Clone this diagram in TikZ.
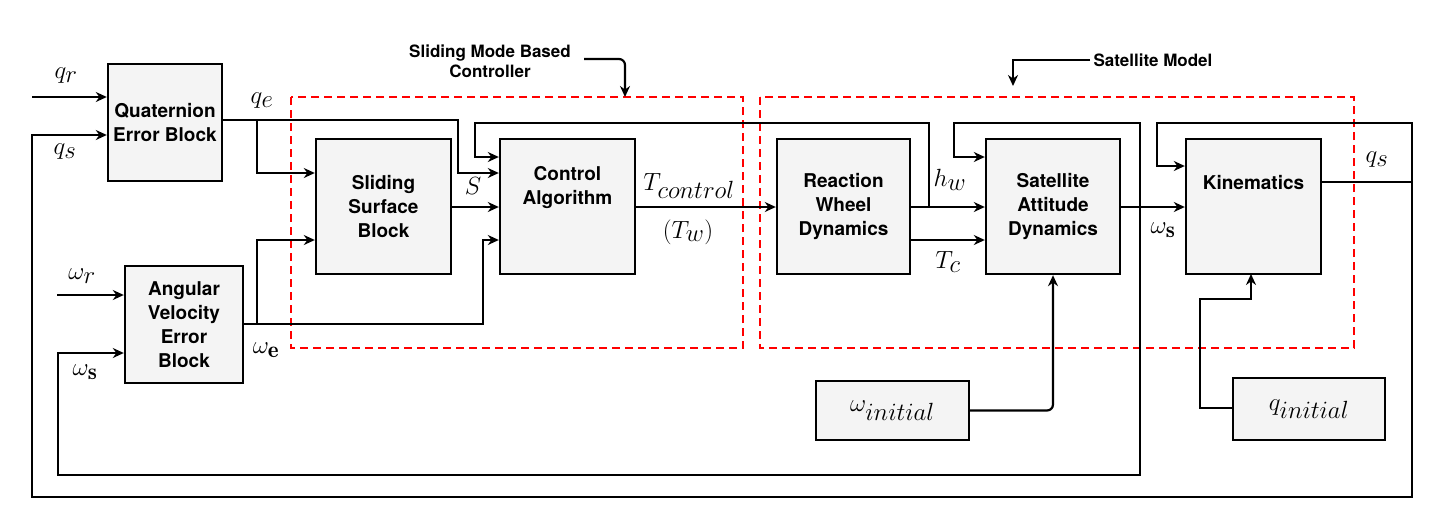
\documentclass[tikz,border=0pt]{standalone}
\usepackage{fontspec}
\setsansfont{TeX Gyre Heros}
\usetikzlibrary{arrows.meta}
\definecolor{blk}{HTML}{F4F4F4}
\begin{document}
\begin{tikzpicture}[x=1pt,y=-1pt,
  blockbox/.style={draw,line width=2.4pt,fill=blk,font=\sffamily\bfseries\fontsize{19}{24}\selectfont,align=center,inner sep=0pt},
  wire/.style={line width=2.2pt},
  arr/.style={wire,-{Stealth[length=11pt,width=10pt]}},
  grp/.style={draw=red,line width=2pt,dash pattern=on 8pt off 5pt},
  mlab/.style={font=\fontsize{33}{36}\selectfont},
  tlab/.style={font=\sffamily\bfseries\fontsize{17}{20}\selectfont,align=center}]
\useasboundingbox (0,0) rectangle (1440,520);
% groups
\draw[grp] (291,97) rectangle (743,348);
\draw[grp] (760,97) rectangle (1354,348);
% blocks
\node[blockbox,minimum width=114pt,minimum height=117pt] (qeb) at (165,122.5) {Quaternion\\Error Block};
\node[blockbox,minimum width=118pt,minimum height=117pt] (aveb) at (184,324.5) {Angular\\Velocity\\Error\\Block};
\node[blockbox,minimum width=135pt,minimum height=135pt] (ssb) at (383.5,206.5) {Sliding\\Surface\\Block};
\node[blockbox,minimum width=135pt,minimum height=135pt] (ca) at (567.5,206.5) {Control\\Algorithm\\[18pt]};
\node[blockbox,minimum width=133pt,minimum height=135pt] (rw) at (843.5,206.5) {Reaction\\Wheel\\Dynamics};
\node[blockbox,minimum width=134pt,minimum height=135pt] (sad) at (1053,206.5) {Satellite\\Attitude\\Dynamics};
\node[blockbox,minimum width=135pt,minimum height=135pt] (kin) at (1253.5,206.5) {Kinematics\\[24pt]};
\node[blockbox,minimum width=153pt,minimum height=59pt,font=\fontsize{33}{36}\selectfont] (wi) at (892.5,410.5) {$\omega_{initial}$};
\node[blockbox,minimum width=152pt,minimum height=62pt,font=\fontsize{33}{36}\selectfont] (qi) at (1309,409) {$q_{initial}$};
% coordinates
\coordinate (qrin) at (32,97);
\coordinate (wrin) at (57,295);
% inputs
\draw[arr] (qrin) -- (qrin -| qeb.west);
\draw[arr] (wrin) -- (wrin -| aveb.west);
% q_s outer loop
\draw[arr] (kin.east |- 0,182) -- (1412,182) -- (1412,497) -- (32,497) -- (32,135) -- (qeb.west |- 0,135);
\draw[arr] (1412,182) -- (1412,123) -- (1157,123) -- (1157,166) -- (kin.west |- 0,166);
% q_e
\draw[arr] (qeb.east |- 0,120) -- (458,120) -- (458,173) -- (ca.west |- 0,173);
\draw[arr] (257,120) -- (257,173) -- (ssb.west |- 0,173);
% omega_e
\draw[arr] (aveb.east |- 0,324) -- (483,324) -- (483,240) -- (ca.west |- 0,240);
\draw[arr] (257,324) -- (257,240) -- (ssb.west |- 0,240);
% S
\draw[arr] (ssb.east |- 0,207) -- (ca.west |- 0,207);
% T control
\draw[arr] (ca.east |- 0,207) -- (rw.west |- 0,207);
% RW to SAD
\draw[arr] (rw.east |- 0,207) -- (sad.west |- 0,207);
\draw[arr] (rw.east |- 0,240) -- (sad.west |- 0,240);
% h_w feedback
\draw[arr] (929,207) -- (929,123) -- (475,123) -- (475,157) -- (ca.west |- 0,157);
% SAD to kin
\draw[arr] (sad.east |- 0,207) -- (kin.west |- 0,207);
% omega_s feedback
\draw[arr] (1140,207) -- (1140,475) -- (58,475) -- (58,353) -- (aveb.west |- 0,353);
\draw[arr] (1140,207) -- (1140,123) -- (954,123) -- (954,157) -- (sad.west |- 0,157);
% initial conditions
\draw[arr,rounded corners=6pt] (wi.east) -- (1053,410.5) -- (sad.south);
\draw[arr] (qi.west |- 0,408) -- (1200,408) -- (1200,299) -- (1251,299) -- (1251,274);
% group labels
\node[tlab] (smc) at (490,61) {Sliding Mode Based\\Controller};
\draw[arr,rounded corners=6pt] (584,59) -- (625,59) -- (625,97);
\node[tlab,anchor=west] (satm) at (1090,60) {Satellite Model};
\draw[arr] (satm.west) -- (1013,60) -- (1013,86);
% math labels
\node[mlab] (l1) at (66,76) {$q_r$};
\node[mlab] (l2) at (65,152) {$q_s$};
\node[mlab] (l3) at (262,101) {$q_e$};
\node[mlab] (l4) at (82,276) {$\omega_r$};
\node[mlab] (l5) at (85,372) {$\omega_{\mathbf{s}}$};
\node[mlab] (l6) at (266,350) {$\omega_{\mathbf{e}}$};
\node[mlab] (l7) at (473,186) {$S$};
\node[mlab] (l8) at (689,186) {$T_{control}$};
\node[mlab] (l9) at (688,232) {$(T_w)$};
\node[mlab] (l10) at (950,180) {$h_w$};
\node[mlab] (l11) at (948,262) {$T_c$};
\node[mlab] (l12) at (1163,230) {$\omega_{\mathbf{s}}$};
\node[mlab] (l13) at (1377,160) {$q_s$};
\end{tikzpicture}
\end{document}
